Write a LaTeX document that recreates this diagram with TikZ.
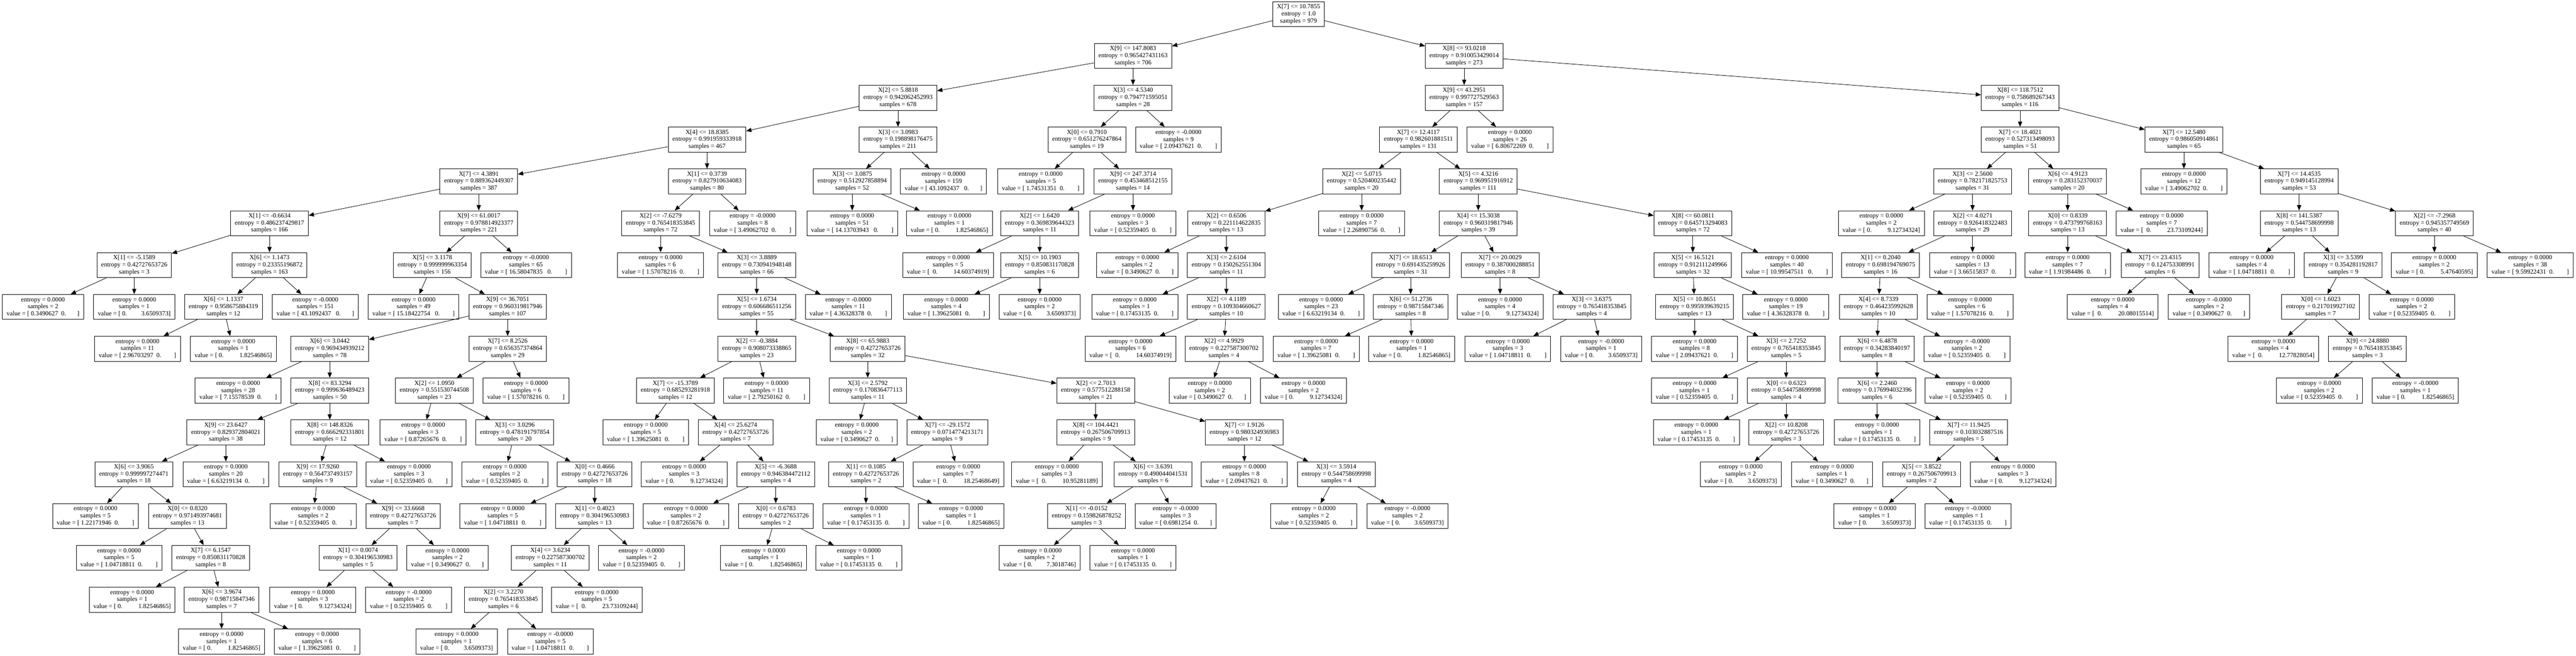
\documentclass[tikz,border=0pt]{standalone}
\usepackage{fontspec}
\setmainfont{Liberation Serif}
\usepackage{tikz}
\usetikzlibrary{arrows.meta}
\tikzstyle{split} = [rectangle, minimum height=1.42cm, inner xsep=0.24cm, text centered, align=center, draw=black, fill=white, line width=0.024cm, font=\fontsize{10.3pt}{11.4pt}\selectfont]
\tikzstyle{leafbox} = [split]
\tikzstyle{arrow} = [line width=0.024cm, ->, >={Triangle[length=0.3cm,width=0.24cm]}]
\begin{document}
\begin{tikzpicture}[node distance=2.374cm]
\useasboundingbox (0,0) rectangle (146.24,-37.22);
\node (dec0) [split] at (73.72,-0.80) {X[7] <= 10.7855\\entropy = 1.0\\samples = 979};
% level 1
\node (dec1) [split, below of=dec0, xshift=-9.40cm] {X[9] <= 147.8083\\entropy = 0.965427431163\\samples = 706};
\node (dec2) [split, below of=dec0, xshift=9.40cm] {X[8] <= 93.0218\\entropy = 0.910053429014\\samples = 273};
% level 2
\node (dec3) [split, below of=dec1, xshift=-13.34cm] {X[2] <= 5.8818\\entropy = 0.942062452993\\samples = 678};
\node (dec4) [split, below of=dec1] {X[3] <= 4.5340\\entropy = 0.794771595051\\samples = 28};
\node (dec5) [split, below of=dec2] {X[9] <= 43.2951\\entropy = 0.997727529563\\samples = 157};
\node (dec6) [split, below of=dec2, xshift=31.56cm] {X[8] <= 118.7512\\entropy = 0.758689267343\\samples = 116};
% level 3
\node (dec7) [split, below of=dec3, xshift=-10.84cm] {X[4] <= 18.8385\\entropy = 0.991959333918\\samples = 467};
\node (dec8) [split, below of=dec3] {X[3] <= 3.0983\\entropy = 0.198898176475\\samples = 211};
\node (dec9) [split, below of=dec4, xshift=-2.62cm] {X[0] <= 0.7910\\entropy = 0.651276247864\\samples = 19};
\node (leaf1) [leafbox, below of=dec4, xshift=2.58cm] {entropy = -0.0000\\samples = 9\\value = [~2.09437621~~0.~~~~~~~~]};
\node (dec10) [split, below of=dec5, xshift=-2.60cm] {X[7] <= 12.4117\\entropy = 0.982601881511\\samples = 131};
\node (leaf2) [leafbox, below of=dec5, xshift=2.60cm] {entropy = 0.0000\\samples = 26\\value = [~6.80672269~~0.~~~~~~~~]};
\node (dec11) [split, below of=dec6] {X[7] <= 18.4021\\entropy = 0.527313498093\\samples = 51};
\node (dec12) [split, below of=dec6, xshift=9.30cm] {X[7] <= 12.5480\\entropy = 0.986050914861\\samples = 65};
% level 4
\node (dec13) [split, below of=dec7, xshift=-12.96cm] {X[7] <= 4.3891\\entropy = 0.889362449307\\samples = 387};
\node (dec14) [split, below of=dec7] {X[1] <= 0.3739\\entropy = 0.827910634083\\samples = 80};
\node (dec15) [split, below of=dec8, xshift=-2.60cm] {X[3] <= 3.0875\\entropy = 0.512927858894\\samples = 52};
\node (leaf3) [leafbox, below of=dec8, xshift=2.58cm] {entropy = 0.0000\\samples = 159\\value = [~43.1092437~~~0.~~~~~~~]};
\node (leaf4) [leafbox, below of=dec9, xshift=-2.62cm] {entropy = 0.0000\\samples = 5\\value = [~1.74531351~~0.~~~~~~~~]};
\node (dec16) [split, below of=dec9, xshift=2.62cm] {X[9] <= 247.3714\\entropy = 0.453468512155\\samples = 14};
\node (dec17) [split, below of=dec10, xshift=-3.22cm] {X[2] <= 5.0715\\entropy = 0.520400235442\\samples = 20};
\node (dec18) [split, below of=dec10, xshift=3.40cm] {X[5] <= 4.3216\\entropy = 0.969951916912\\samples = 111};
\node (dec19) [split, below of=dec11, xshift=-2.70cm] {X[3] <= 2.5600\\entropy = 0.782171825753\\samples = 31};
\node (dec20) [split, below of=dec11, xshift=2.70cm] {X[6] <= 4.9123\\entropy = 0.283152370037\\samples = 20};
\node (leaf5) [leafbox, below of=dec12] {entropy = 0.0000\\samples = 12\\value = [~3.49062702~~0.~~~~~~~~]};
\node (dec21) [split, below of=dec12, xshift=6.54cm] {X[7] <= 14.4535\\entropy = 0.949145128994\\samples = 53};
% level 5
\node (dec22) [split, below of=dec13, xshift=-11.88cm] {X[1] <= -0.6634\\entropy = 0.486237429817\\samples = 166};
\node (dec23) [split, below of=dec13] {X[9] <= 61.0017\\entropy = 0.978814923377\\samples = 221};
\node (dec24) [split, below of=dec14, xshift=-2.64cm] {X[2] <= -7.6279\\entropy = 0.765418353845\\samples = 72};
\node (leaf6) [leafbox, below of=dec14, xshift=2.58cm] {entropy = -0.0000\\samples = 8\\value = [~3.49062702~~0.~~~~~~~~]};
\node (leaf7) [leafbox, below of=dec15] {entropy = 0.0000\\samples = 51\\value = [~14.13703943~~~0.~~~~~~~~]};
\node (leaf8) [leafbox, below of=dec15, xshift=5.52cm] {entropy = 0.0000\\samples = 1\\value = [~0.~~~~~~~~~~1.82546865]};
\node (dec25) [split, below of=dec16, xshift=-5.30cm] {X[2] <= 1.6420\\entropy = 0.369839644323\\samples = 11};
\node (leaf9) [leafbox, below of=dec16] {entropy = 0.0000\\samples = 3\\value = [~0.52359405~~0.~~~~~~~~]};
\node (dec26) [split, below of=dec17, xshift=-7.68cm] {X[2] <= 0.6506\\entropy = 0.221114622835\\samples = 13};
\node (leaf10) [leafbox, below of=dec17] {entropy = 0.0000\\samples = 7\\value = [~2.26890756~~0.~~~~~~~~]};
\node (dec27) [split, below of=dec18] {X[4] <= 15.3038\\entropy = 0.960319817946\\samples = 39};
\node (dec28) [split, below of=dec18, xshift=12.18cm] {X[8] <= 60.0811\\entropy = 0.645713294083\\samples = 72};
\node (leaf11) [leafbox, below of=dec19, xshift=-5.18cm] {entropy = 0.0000\\samples = 2\\value = [~0.~~~~~~~~~~9.12734324]};
\node (dec29) [split, below of=dec19] {X[2] <= 4.0271\\entropy = 0.926418322483\\samples = 29};
\node (dec30) [split, below of=dec20] {X[0] <= 0.8339\\entropy = 0.473799768163\\samples = 13};
\node (leaf12) [leafbox, below of=dec20, xshift=5.34cm] {entropy = 0.0000\\samples = 7\\value = [~~0.~~~~~~~~~~23.73109244]};
\node (dec31) [split, below of=dec21] {X[8] <= 141.5387\\entropy = 0.544758699998\\samples = 13};
\node (dec32) [split, below of=dec21, xshift=7.68cm] {X[2] <= -7.2968\\entropy = 0.945357749569\\samples = 40};
% level 6
\node (dec33) [split, below of=dec22, xshift=-7.68cm] {X[1] <= -5.1589\\entropy = 0.42727653726\\samples = 3};
\node (dec34) [split, below of=dec22] {X[6] <= 1.1473\\entropy = 0.23355196872\\samples = 163};
\node (dec35) [split, below of=dec23, xshift=-2.64cm] {X[5] <= 3.1178\\entropy = 0.999999963354\\samples = 156};
\node (leaf13) [leafbox, below of=dec23, xshift=2.68cm] {entropy = -0.0000\\samples = 65\\value = [~16.58047835~~~0.~~~~~~~~]};
\node (leaf14) [leafbox, below of=dec24] {entropy = 0.0000\\samples = 6\\value = [~1.57078216~~0.~~~~~~~~]};
\node (dec36) [split, below of=dec24, xshift=5.46cm] {X[3] <= 3.8889\\entropy = 0.730941948148\\samples = 66};
\node (leaf15) [leafbox, below of=dec25, xshift=-5.20cm] {entropy = 0.0000\\samples = 5\\value = [~~0.~~~~~~~~~~14.60374919]};
\node (dec37) [split, below of=dec25] {X[5] <= 10.1903\\entropy = 0.850831170828\\samples = 6};
\node (leaf16) [leafbox, below of=dec26, xshift=-5.06cm] {entropy = 0.0000\\samples = 2\\value = [~0.3490627~~0.~~~~~~~]};
\node (dec38) [split, below of=dec26] {X[3] <= 2.6104\\entropy = 0.150262551304\\samples = 11};
\node (dec39) [split, below of=dec27, xshift=-3.84cm] {X[7] <= 18.6513\\entropy = 0.691435259926\\samples = 31};
\node (dec40) [split, below of=dec27, xshift=1.24cm] {X[7] <= 20.0029\\entropy = 0.387000288851\\samples = 8};
\node (dec41) [split, below of=dec28] {X[5] <= 16.5121\\entropy = 0.912111249966\\samples = 32};
\node (leaf17) [leafbox, below of=dec28, xshift=5.34cm] {entropy = 0.0000\\samples = 40\\value = [~10.99547511~~~0.~~~~~~~~]};
\node (dec42) [split, below of=dec29, xshift=-5.22cm] {X[1] <= 0.2040\\entropy = 0.698194769075\\samples = 16};
\node (leaf18) [leafbox, below of=dec29] {entropy = 0.0000\\samples = 13\\value = [~3.66515837~~0.~~~~~~~~]};
\node (leaf19) [leafbox, below of=dec30] {entropy = 0.0000\\samples = 7\\value = [~1.91984486~~0.~~~~~~~~]};
\node (dec43) [split, below of=dec30, xshift=5.24cm] {X[7] <= 23.4315\\entropy = 0.124753308991\\samples = 6};
\node (leaf20) [leafbox, below of=dec31, xshift=-2.70cm] {entropy = 0.0000\\samples = 4\\value = [~1.04718811~~0.~~~~~~~~]};
\node (dec44) [split, below of=dec31, xshift=2.50cm] {X[3] <= 3.5399\\entropy = 0.354281192817\\samples = 9};
\node (leaf21) [leafbox, below of=dec32] {entropy = 0.0000\\samples = 2\\value = [~0.~~~~~~~~~~5.47640595]};
\node (leaf22) [leafbox, below of=dec32, xshift=5.44cm] {entropy = 0.0000\\samples = 38\\value = [~9.59922431~~0.~~~~~~~~]};
% level 7
\node (leaf23) [leafbox, below of=dec33, xshift=-5.18cm] {entropy = 0.0000\\samples = 2\\value = [~0.3490627~~0.~~~~~~~]};
\node (leaf24) [leafbox, below of=dec33] {entropy = 0.0000\\samples = 1\\value = [~0.~~~~~~~~~3.6509373]};
\node (dec45) [split, below of=dec34, xshift=-2.62cm] {X[6] <= 1.1337\\entropy = 0.958675884319\\samples = 12};
\node (leaf25) [leafbox, below of=dec34, xshift=2.60cm] {entropy = -0.0000\\samples = 151\\value = [~43.1092437~~~0.~~~~~~~]};
\node (leaf26) [leafbox, below of=dec35, xshift=-1.06cm] {entropy = 0.0000\\samples = 49\\value = [~15.18422754~~~0.~~~~~~~~]};
\node (dec46) [split, below of=dec35, xshift=4.28cm] {X[9] <= 36.7051\\entropy = 0.960319817946\\samples = 107};
\node (dec47) [split, below of=dec36] {X[5] <= 1.6734\\entropy = 0.606686511256\\samples = 55};
\node (leaf27) [leafbox, below of=dec36, xshift=5.20cm] {entropy = -0.0000\\samples = 11\\value = [~4.36328378~~0.~~~~~~~~]};
\node (leaf28) [leafbox, below of=dec37, xshift=-5.30cm] {entropy = 0.0000\\samples = 4\\value = [~1.39625081~~0.~~~~~~~~]};
\node (leaf29) [leafbox, below of=dec37] {entropy = 0.0000\\samples = 2\\value = [~0.~~~~~~~~~3.6509373]};
\node (leaf30) [leafbox, below of=dec38, xshift=-5.20cm] {entropy = 0.0000\\samples = 1\\value = [~0.17453135~~0.~~~~~~~~]};
\node (dec48) [split, below of=dec38] {X[2] <= 4.1189\\entropy = 0.109304660627\\samples = 10};
\node (leaf31) [leafbox, below of=dec39, xshift=-5.08cm] {entropy = 0.0000\\samples = 23\\value = [~6.63219134~~0.~~~~~~~~]};
\node (dec49) [split, below of=dec39] {X[6] <= 51.2736\\entropy = 0.98715847346\\samples = 8};
\node (leaf32) [leafbox, below of=dec40] {entropy = 0.0000\\samples = 4\\value = [~0.~~~~~~~~~~9.12734324]};
\node (dec50) [split, below of=dec40, xshift=5.20cm] {X[3] <= 3.6375\\entropy = 0.765418353845\\samples = 4};
\node (dec51) [split, below of=dec41, xshift=0.10cm] {X[5] <= 10.8651\\entropy = 0.995939639215\\samples = 13};
\node (leaf33) [leafbox, below of=dec41, xshift=5.28cm] {entropy = 0.0000\\samples = 19\\value = [~4.36328378~~0.~~~~~~~~]};
\node (dec52) [split, below of=dec42, xshift=-0.12cm] {X[4] <= 8.7339\\entropy = 0.464235992628\\samples = 10};
\node (leaf34) [leafbox, below of=dec42, xshift=5.08cm] {entropy = 0.0000\\samples = 6\\value = [~1.57078216~~0.~~~~~~~~]};
\node (leaf35) [leafbox, below of=dec43, xshift=-2.68cm] {entropy = 0.0000\\samples = 4\\value = [~~0.~~~~~~~~~~20.08015514]};
\node (leaf36) [leafbox, below of=dec43, xshift=2.78cm] {entropy = -0.0000\\samples = 2\\value = [~0.3490627~~0.~~~~~~~]};
\node (dec53) [split, below of=dec44, xshift=-1.28cm] {X[0] <= 1.6023\\entropy = 0.217019927102\\samples = 7};
\node (leaf37) [leafbox, below of=dec44, xshift=3.90cm] {entropy = 0.0000\\samples = 2\\value = [~0.52359405~~0.~~~~~~~~]};
% level 8
\node (leaf38) [leafbox, below of=dec45, xshift=-4.88cm] {entropy = 0.0000\\samples = 11\\value = [~2.96703297~~0.~~~~~~~~]};
\node (leaf39) [leafbox, below of=dec45, xshift=0.56cm] {entropy = 0.0000\\samples = 1\\value = [~0.~~~~~~~~~~1.82546865]};
\node (dec54) [split, below of=dec46, xshift=-10.10cm] {X[6] <= 3.0442\\entropy = 0.969434939212\\samples = 78};
\node (dec55) [split, below of=dec46] {X[7] <= 8.2526\\entropy = 0.656357374864\\samples = 29};
\node (dec56) [split, below of=dec47] {X[2] <= -0.3884\\entropy = 0.908073338865\\samples = 23};
\node (dec57) [split, below of=dec47, xshift=6.30cm] {X[8] <= 65.9883\\entropy = 0.42727653726\\samples = 32};
\node (leaf40) [leafbox, below of=dec48, xshift=-5.44cm] {entropy = 0.0000\\samples = 6\\value = [~~0.~~~~~~~~~~14.60374919]};
\node (dec58) [split, below of=dec48, xshift=-0.14cm] {X[2] <= 4.9929\\entropy = 0.227587300702\\samples = 4};
\node (leaf41) [leafbox, below of=dec49, xshift=-5.36cm] {entropy = 0.0000\\samples = 7\\value = [~1.39625081~~0.~~~~~~~~]};
\node (leaf42) [leafbox, below of=dec49, xshift=0.06cm] {entropy = 0.0000\\samples = 1\\value = [~0.~~~~~~~~~~1.82546865]};
\node (leaf43) [leafbox, below of=dec50, xshift=-4.76cm] {entropy = 0.0000\\samples = 3\\value = [~1.04718811~~0.~~~~~~~~]};
\node (leaf44) [leafbox, below of=dec50, xshift=0.54cm] {entropy = -0.0000\\samples = 1\\value = [~0.~~~~~~~~~3.6509373]};
\node (leaf45) [leafbox, below of=dec51] {entropy = 0.0000\\samples = 8\\value = [~2.09437621~~0.~~~~~~~~]};
\node (dec59) [split, below of=dec51, xshift=5.20cm] {X[3] <= 2.7252\\entropy = 0.765418353845\\samples = 5};
\node (dec60) [split, below of=dec52, xshift=-0.08cm] {X[6] <= 6.4878\\entropy = 0.34283840197\\samples = 8};
\node (leaf46) [leafbox, below of=dec52, xshift=5.02cm] {entropy = -0.0000\\samples = 2\\value = [~0.52359405~~0.~~~~~~~~]};
\node (leaf47) [leafbox, below of=dec53, xshift=-2.68cm] {entropy = 0.0000\\samples = 4\\value = [~~0.~~~~~~~~~~12.77828054]};
\node (dec61) [split, below of=dec53, xshift=2.66cm] {X[9] <= 24.8880\\entropy = 0.765418353845\\samples = 3};
% level 9
\node (leaf48) [leafbox, below of=dec54, xshift=-5.20cm] {entropy = 0.0000\\samples = 28\\value = [~7.15578539~~0.~~~~~~~~]};
\node (dec62) [split, below of=dec54] {X[8] <= 83.3294\\entropy = 0.999636489423\\samples = 50};
\node (dec63) [split, below of=dec55, xshift=-4.16cm] {X[2] <= 1.0950\\entropy = 0.551530744508\\samples = 23};
\node (leaf49) [leafbox, below of=dec55, xshift=1.04cm] {entropy = 0.0000\\samples = 6\\value = [~1.57078216~~0.~~~~~~~~]};
\node (dec64) [split, below of=dec56, xshift=-4.62cm] {X[7] <= -15.3789\\entropy = 0.685293281918\\samples = 12};
\node (leaf50) [leafbox, below of=dec56, xshift=0.56cm] {entropy = 0.0000\\samples = 11\\value = [~2.79250162~~0.~~~~~~~~]};
\node (dec65) [split, below of=dec57] {X[3] <= 2.5792\\entropy = 0.170836477113\\samples = 11};
\node (dec66) [split, below of=dec57, xshift=12.94cm] {X[2] <= 2.7013\\entropy = 0.577512288158\\samples = 21};
\node (leaf51) [leafbox, below of=dec58, xshift=-0.80cm] {entropy = 0.0000\\samples = 2\\value = [~0.3490627~~0.~~~~~~~]};
\node (leaf52) [leafbox, below of=dec58, xshift=4.52cm] {entropy = 0.0000\\samples = 2\\value = [~0.~~~~~~~~~~9.12734324]};
\node (leaf53) [leafbox, below of=dec59, xshift=-5.20cm] {entropy = 0.0000\\samples = 1\\value = [~0.52359405~~0.~~~~~~~~]};
\node (dec67) [split, below of=dec59] {X[0] <= 0.6323\\entropy = 0.544758699998\\samples = 4};
\node (dec68) [split, below of=dec60] {X[6] <= 2.2460\\entropy = 0.176994032396\\samples = 6};
\node (leaf54) [leafbox, below of=dec60, xshift=5.16cm] {entropy = 0.0000\\samples = 2\\value = [~0.52359405~~0.~~~~~~~~]};
\node (leaf55) [leafbox, below of=dec61, xshift=-2.74cm] {entropy = 0.0000\\samples = 2\\value = [~0.52359405~~0.~~~~~~~~]};
\node (leaf56) [leafbox, below of=dec61, xshift=2.72cm] {entropy = -0.0000\\samples = 1\\value = [~0.~~~~~~~~~~1.82546865]};
% level 10
\node (dec69) [split, below of=dec62, xshift=-5.90cm] {X[9] <= 23.6427\\entropy = 0.829372804021\\samples = 38};
\node (dec70) [split, below of=dec62] {X[8] <= 148.8326\\entropy = 0.666292331801\\samples = 12};
\node (leaf57) [leafbox, below of=dec63, xshift=-0.64cm] {entropy = 0.0000\\samples = 3\\value = [~0.87265676~~0.~~~~~~~~]};
\node (dec71) [split, below of=dec63, xshift=4.56cm] {X[3] <= 3.0296\\entropy = 0.478191797854\\samples = 20};
\node (leaf58) [leafbox, below of=dec64, xshift=-1.68cm] {entropy = 0.0000\\samples = 5\\value = [~1.39625081~~0.~~~~~~~~]};
\node (dec72) [split, below of=dec64, xshift=3.42cm] {X[4] <= 25.6274\\entropy = 0.42727653726\\samples = 7};
\node (leaf59) [leafbox, below of=dec65, xshift=-0.62cm] {entropy = 0.0000\\samples = 2\\value = [~0.3490627~~0.~~~~~~~]};
\node (dec73) [split, below of=dec65, xshift=4.52cm] {X[7] <= -29.1572\\entropy = 0.0714774213171\\samples = 9};
\node (dec74) [split, below of=dec66] {X[8] <= 104.4421\\entropy = 0.267506709913\\samples = 9};
\node (dec75) [split, below of=dec66, xshift=8.44cm] {X[7] <= 1.9126\\entropy = 0.980324936983\\samples = 12};
\node (leaf60) [leafbox, below of=dec67, xshift=-5.10cm] {entropy = 0.0000\\samples = 1\\value = [~0.17453135~~0.~~~~~~~~]};
\node (dec76) [split, below of=dec67] {X[2] <= 10.8208\\entropy = 0.42727653726\\samples = 3};
\node (leaf61) [leafbox, below of=dec68] {entropy = 0.0000\\samples = 1\\value = [~0.17453135~~0.~~~~~~~~]};
\node (dec77) [split, below of=dec68, xshift=5.20cm] {X[7] <= 11.9425\\entropy = 0.103032887516\\samples = 5};
% level 11
\node (dec78) [split, below of=dec69, xshift=-5.22cm] {X[6] <= 3.9065\\entropy = 0.999997274471\\samples = 18};
\node (leaf62) [leafbox, below of=dec69] {entropy = 0.0000\\samples = 20\\value = [~6.63219134~~0.~~~~~~~~]};
\node (dec79) [split, below of=dec70, xshift=-0.68cm] {X[9] <= 17.9260\\entropy = 0.564737493157\\samples = 9};
\node (leaf63) [leafbox, below of=dec70, xshift=4.50cm] {entropy = 0.0000\\samples = 3\\value = [~0.52359405~~0.~~~~~~~~]};
\node (leaf64) [leafbox, below of=dec71, xshift=-0.56cm] {entropy = 0.0000\\samples = 2\\value = [~0.52359405~~0.~~~~~~~~]};
\node (dec80) [split, below of=dec71, xshift=4.54cm] {X[0] <= 0.4666\\entropy = 0.42727653726\\samples = 18};
\node (leaf65) [leafbox, below of=dec72, xshift=-2.92cm] {entropy = 0.0000\\samples = 3\\value = [~0.~~~~~~~~~~9.12734324]};
\node (dec81) [split, below of=dec72, xshift=2.28cm] {X[5] <= -6.3688\\entropy = 0.946384472112\\samples = 4};
\node (dec82) [split, below of=dec73, xshift=-4.62cm] {X[1] <= 0.1085\\entropy = 0.42727653726\\samples = 2};
\node (leaf66) [leafbox, below of=dec73, xshift=0.62cm] {entropy = 0.0000\\samples = 7\\value = [~~0.~~~~~~~~~~18.25468649]};
\node (leaf67) [leafbox, below of=dec74, xshift=-2.20cm] {entropy = 0.0000\\samples = 3\\value = [~~0.~~~~~~~~~~10.95281189]};
\node (dec83) [split, below of=dec74, xshift=3.26cm] {X[6] <= 3.6391\\entropy = 0.490044041531\\samples = 6};
\node (leaf68) [leafbox, below of=dec75] {entropy = 0.0000\\samples = 8\\value = [~2.09437621~~0.~~~~~~~~]};
\node (dec84) [split, below of=dec75, xshift=5.22cm] {X[3] <= 3.5914\\entropy = 0.544758699998\\samples = 4};
\node (leaf69) [leafbox, below of=dec76, xshift=-2.58cm] {entropy = 0.0000\\samples = 2\\value = [~0.~~~~~~~~~3.6509373]};
\node (leaf70) [leafbox, below of=dec76, xshift=2.60cm] {entropy = 0.0000\\samples = 1\\value = [~0.3490627~~0.~~~~~~~]};
\node (dec85) [split, below of=dec77, xshift=-2.68cm] {X[5] <= 3.8522\\entropy = 0.267506709913\\samples = 2};
\node (leaf71) [leafbox, below of=dec77, xshift=2.52cm] {entropy = 0.0000\\samples = 3\\value = [~0.~~~~~~~~~~9.12734324]};
% level 12
\node (leaf72) [leafbox, below of=dec78, xshift=-2.18cm] {entropy = 0.0000\\samples = 5\\value = [~1.22171946~~0.~~~~~~~~]};
\node (dec86) [split, below of=dec78, xshift=3.04cm] {X[0] <= 0.8320\\entropy = 0.971493974681\\samples = 13};
\node (leaf73) [leafbox, below of=dec79, xshift=-0.26cm] {entropy = 0.0000\\samples = 2\\value = [~0.52359405~~0.~~~~~~~~]};
\node (dec87) [split, below of=dec79, xshift=4.84cm] {X[9] <= 33.6668\\entropy = 0.42727653726\\samples = 7};
\node (leaf74) [leafbox, below of=dec80, xshift=-5.22cm] {entropy = 0.0000\\samples = 5\\value = [~1.04718811~~0.~~~~~~~~]};
\node (dec88) [split, below of=dec80] {X[1] <= 0.4023\\entropy = 0.304196530983\\samples = 13};
\node (leaf75) [leafbox, below of=dec81, xshift=-5.10cm] {entropy = 0.0000\\samples = 2\\value = [~0.87265676~~0.~~~~~~~~]};
\node (dec89) [split, below of=dec81] {X[0] <= 0.6783\\entropy = 0.42727653726\\samples = 2};
\node (leaf76) [leafbox, below of=dec82] {entropy = 0.0000\\samples = 1\\value = [~0.17453135~~0.~~~~~~~~]};
\node (leaf77) [leafbox, below of=dec82, xshift=5.40cm] {entropy = 0.0000\\samples = 1\\value = [~0.~~~~~~~~~~1.82546865]};
\node (dec90) [split, below of=dec83, xshift=-3.78cm] {X[1] <= -0.0152\\entropy = 0.159826878252\\samples = 3};
\node (leaf78) [leafbox, below of=dec83, xshift=1.28cm] {entropy = -0.0000\\samples = 3\\value = [~0.6981254~~0.~~~~~~~]};
\node (leaf79) [leafbox, below of=dec84, xshift=-1.28cm] {entropy = 0.0000\\samples = 2\\value = [~0.52359405~~0.~~~~~~~~]};
\node (leaf80) [leafbox, below of=dec84, xshift=4.04cm] {entropy = -0.0000\\samples = 2\\value = [~0.~~~~~~~~~3.6509373]};
\node (leaf81) [leafbox, below of=dec85, xshift=-2.66cm] {entropy = 0.0000\\samples = 1\\value = [~0.~~~~~~~~~3.6509373]};
\node (leaf82) [leafbox, below of=dec85, xshift=2.64cm] {entropy = -0.0000\\samples = 1\\value = [~0.17453135~~0.~~~~~~~~]};
% level 13
\node (leaf83) [leafbox, below of=dec86, xshift=-3.88cm] {entropy = 0.0000\\samples = 5\\value = [~1.04718811~~0.~~~~~~~~]};
\node (dec91) [split, below of=dec86, xshift=1.32cm] {X[7] <= 6.1547\\entropy = 0.850831170828\\samples = 8};
\node (dec92) [split, below of=dec87, xshift=-2.56cm] {X[1] <= 0.0074\\entropy = 0.304196530983\\samples = 5};
\node (leaf84) [leafbox, below of=dec87, xshift=2.52cm] {entropy = 0.0000\\samples = 2\\value = [~0.3490627~~0.~~~~~~~]};
\node (dec93) [split, below of=dec88, xshift=-2.52cm] {X[4] <= 3.6234\\entropy = 0.227587300702\\samples = 11};
\node (leaf85) [leafbox, below of=dec88, xshift=2.66cm] {entropy = -0.0000\\samples = 2\\value = [~0.52359405~~0.~~~~~~~~]};
\node (leaf86) [leafbox, below of=dec89, xshift=-0.70cm] {entropy = 0.0000\\samples = 1\\value = [~0.~~~~~~~~~~1.82546865]};
\node (leaf87) [leafbox, below of=dec89, xshift=4.72cm] {entropy = 0.0000\\samples = 1\\value = [~0.17453135~~0.~~~~~~~~]};
\node (leaf88) [leafbox, below of=dec90, xshift=-2.66cm] {entropy = 0.0000\\samples = 2\\value = [~0.~~~~~~~~~7.3018746]};
\node (leaf89) [leafbox, below of=dec90, xshift=2.64cm] {entropy = 0.0000\\samples = 1\\value = [~0.17453135~~0.~~~~~~~~]};
% level 14
\node (leaf90) [leafbox, below of=dec91, xshift=-4.46cm] {entropy = 0.0000\\samples = 1\\value = [~0.~~~~~~~~~~1.82546865]};
\node (dec94) [split, below of=dec91, xshift=0.62cm] {X[6] <= 3.9674\\entropy = 0.98715847346\\samples = 7};
\node (leaf91) [leafbox, below of=dec92, xshift=-2.56cm] {entropy = 0.0000\\samples = 3\\value = [~0.~~~~~~~~~~9.12734324]};
\node (leaf92) [leafbox, below of=dec92, xshift=2.88cm] {entropy = -0.0000\\samples = 2\\value = [~0.52359405~~0.~~~~~~~~]};
\node (dec95) [split, below of=dec93, xshift=-2.66cm] {X[2] <= 3.2270\\entropy = 0.765418353845\\samples = 6};
\node (leaf93) [leafbox, below of=dec93, xshift=2.64cm] {entropy = 0.0000\\samples = 5\\value = [~~0.~~~~~~~~~~23.73109244]};
% level 15
\node (leaf94) [leafbox, below of=dec94] {entropy = 0.0000\\samples = 1\\value = [~0.~~~~~~~~~~1.82546865]};
\node (leaf95) [leafbox, below of=dec94, xshift=5.42cm] {entropy = 0.0000\\samples = 6\\value = [~1.39625081~~0.~~~~~~~~]};
\node (leaf96) [leafbox, below of=dec95, xshift=-2.66cm] {entropy = 0.0000\\samples = 1\\value = [~0.~~~~~~~~~3.6509373]};
\node (leaf97) [leafbox, below of=dec95, xshift=2.66cm] {entropy = -0.0000\\samples = 5\\value = [~1.04718811~~0.~~~~~~~~]};
% edges
\draw [arrow] (dec0) -- (dec1);
\draw [arrow] (dec0) -- (dec2);
\draw [arrow] (dec1) -- (dec3);
\draw [arrow] (dec1) -- (dec4);
\draw [arrow] (dec2) -- (dec5);
\draw [arrow] (dec2) -- (dec6);
\draw [arrow] (dec3) -- (dec7);
\draw [arrow] (dec3) -- (dec8);
\draw [arrow] (dec4) -- (dec9);
\draw [arrow] (dec4) -- (leaf1);
\draw [arrow] (dec5) -- (dec10);
\draw [arrow] (dec5) -- (leaf2);
\draw [arrow] (dec6) -- (dec11);
\draw [arrow] (dec6) -- (dec12);
\draw [arrow] (dec7) -- (dec13);
\draw [arrow] (dec7) -- (dec14);
\draw [arrow] (dec8) -- (dec15);
\draw [arrow] (dec8) -- (leaf3);
\draw [arrow] (dec9) -- (leaf4);
\draw [arrow] (dec9) -- (dec16);
\draw [arrow] (dec10) -- (dec17);
\draw [arrow] (dec10) -- (dec18);
\draw [arrow] (dec11) -- (dec19);
\draw [arrow] (dec11) -- (dec20);
\draw [arrow] (dec12) -- (leaf5);
\draw [arrow] (dec12) -- (dec21);
\draw [arrow] (dec13) -- (dec22);
\draw [arrow] (dec13) -- (dec23);
\draw [arrow] (dec14) -- (dec24);
\draw [arrow] (dec14) -- (leaf6);
\draw [arrow] (dec15) -- (leaf7);
\draw [arrow] (dec15) -- (leaf8);
\draw [arrow] (dec16) -- (dec25);
\draw [arrow] (dec16) -- (leaf9);
\draw [arrow] (dec17) -- (dec26);
\draw [arrow] (dec17) -- (leaf10);
\draw [arrow] (dec18) -- (dec27);
\draw [arrow] (dec18) -- (dec28);
\draw [arrow] (dec19) -- (leaf11);
\draw [arrow] (dec19) -- (dec29);
\draw [arrow] (dec20) -- (dec30);
\draw [arrow] (dec20) -- (leaf12);
\draw [arrow] (dec21) -- (dec31);
\draw [arrow] (dec21) -- (dec32);
\draw [arrow] (dec22) -- (dec33);
\draw [arrow] (dec22) -- (dec34);
\draw [arrow] (dec23) -- (dec35);
\draw [arrow] (dec23) -- (leaf13);
\draw [arrow] (dec24) -- (leaf14);
\draw [arrow] (dec24) -- (dec36);
\draw [arrow] (dec25) -- (leaf15);
\draw [arrow] (dec25) -- (dec37);
\draw [arrow] (dec26) -- (leaf16);
\draw [arrow] (dec26) -- (dec38);
\draw [arrow] (dec27) -- (dec39);
\draw [arrow] (dec27) -- (dec40);
\draw [arrow] (dec28) -- (dec41);
\draw [arrow] (dec28) -- (leaf17);
\draw [arrow] (dec29) -- (dec42);
\draw [arrow] (dec29) -- (leaf18);
\draw [arrow] (dec30) -- (leaf19);
\draw [arrow] (dec30) -- (dec43);
\draw [arrow] (dec31) -- (leaf20);
\draw [arrow] (dec31) -- (dec44);
\draw [arrow] (dec32) -- (leaf21);
\draw [arrow] (dec32) -- (leaf22);
\draw [arrow] (dec33) -- (leaf23);
\draw [arrow] (dec33) -- (leaf24);
\draw [arrow] (dec34) -- (dec45);
\draw [arrow] (dec34) -- (leaf25);
\draw [arrow] (dec35) -- (leaf26);
\draw [arrow] (dec35) -- (dec46);
\draw [arrow] (dec36) -- (dec47);
\draw [arrow] (dec36) -- (leaf27);
\draw [arrow] (dec37) -- (leaf28);
\draw [arrow] (dec37) -- (leaf29);
\draw [arrow] (dec38) -- (leaf30);
\draw [arrow] (dec38) -- (dec48);
\draw [arrow] (dec39) -- (leaf31);
\draw [arrow] (dec39) -- (dec49);
\draw [arrow] (dec40) -- (leaf32);
\draw [arrow] (dec40) -- (dec50);
\draw [arrow] (dec41) -- (dec51);
\draw [arrow] (dec41) -- (leaf33);
\draw [arrow] (dec42) -- (dec52);
\draw [arrow] (dec42) -- (leaf34);
\draw [arrow] (dec43) -- (leaf35);
\draw [arrow] (dec43) -- (leaf36);
\draw [arrow] (dec44) -- (dec53);
\draw [arrow] (dec44) -- (leaf37);
\draw [arrow] (dec45) -- (leaf38);
\draw [arrow] (dec45) -- (leaf39);
\draw [arrow] (dec46) -- (dec54);
\draw [arrow] (dec46) -- (dec55);
\draw [arrow] (dec47) -- (dec56);
\draw [arrow] (dec47) -- (dec57);
\draw [arrow] (dec48) -- (leaf40);
\draw [arrow] (dec48) -- (dec58);
\draw [arrow] (dec49) -- (leaf41);
\draw [arrow] (dec49) -- (leaf42);
\draw [arrow] (dec50) -- (leaf43);
\draw [arrow] (dec50) -- (leaf44);
\draw [arrow] (dec51) -- (leaf45);
\draw [arrow] (dec51) -- (dec59);
\draw [arrow] (dec52) -- (dec60);
\draw [arrow] (dec52) -- (leaf46);
\draw [arrow] (dec53) -- (leaf47);
\draw [arrow] (dec53) -- (dec61);
\draw [arrow] (dec54) -- (leaf48);
\draw [arrow] (dec54) -- (dec62);
\draw [arrow] (dec55) -- (dec63);
\draw [arrow] (dec55) -- (leaf49);
\draw [arrow] (dec56) -- (dec64);
\draw [arrow] (dec56) -- (leaf50);
\draw [arrow] (dec57) -- (dec65);
\draw [arrow] (dec57) -- (dec66);
\draw [arrow] (dec58) -- (leaf51);
\draw [arrow] (dec58) -- (leaf52);
\draw [arrow] (dec59) -- (leaf53);
\draw [arrow] (dec59) -- (dec67);
\draw [arrow] (dec60) -- (dec68);
\draw [arrow] (dec60) -- (leaf54);
\draw [arrow] (dec61) -- (leaf55);
\draw [arrow] (dec61) -- (leaf56);
\draw [arrow] (dec62) -- (dec69);
\draw [arrow] (dec62) -- (dec70);
\draw [arrow] (dec63) -- (leaf57);
\draw [arrow] (dec63) -- (dec71);
\draw [arrow] (dec64) -- (leaf58);
\draw [arrow] (dec64) -- (dec72);
\draw [arrow] (dec65) -- (leaf59);
\draw [arrow] (dec65) -- (dec73);
\draw [arrow] (dec66) -- (dec74);
\draw [arrow] (dec66) -- (dec75);
\draw [arrow] (dec67) -- (leaf60);
\draw [arrow] (dec67) -- (dec76);
\draw [arrow] (dec68) -- (leaf61);
\draw [arrow] (dec68) -- (dec77);
\draw [arrow] (dec69) -- (dec78);
\draw [arrow] (dec69) -- (leaf62);
\draw [arrow] (dec70) -- (dec79);
\draw [arrow] (dec70) -- (leaf63);
\draw [arrow] (dec71) -- (leaf64);
\draw [arrow] (dec71) -- (dec80);
\draw [arrow] (dec72) -- (leaf65);
\draw [arrow] (dec72) -- (dec81);
\draw [arrow] (dec73) -- (dec82);
\draw [arrow] (dec73) -- (leaf66);
\draw [arrow] (dec74) -- (leaf67);
\draw [arrow] (dec74) -- (dec83);
\draw [arrow] (dec75) -- (leaf68);
\draw [arrow] (dec75) -- (dec84);
\draw [arrow] (dec76) -- (leaf69);
\draw [arrow] (dec76) -- (leaf70);
\draw [arrow] (dec77) -- (dec85);
\draw [arrow] (dec77) -- (leaf71);
\draw [arrow] (dec78) -- (leaf72);
\draw [arrow] (dec78) -- (dec86);
\draw [arrow] (dec79) -- (leaf73);
\draw [arrow] (dec79) -- (dec87);
\draw [arrow] (dec80) -- (leaf74);
\draw [arrow] (dec80) -- (dec88);
\draw [arrow] (dec81) -- (leaf75);
\draw [arrow] (dec81) -- (dec89);
\draw [arrow] (dec82) -- (leaf76);
\draw [arrow] (dec82) -- (leaf77);
\draw [arrow] (dec83) -- (dec90);
\draw [arrow] (dec83) -- (leaf78);
\draw [arrow] (dec84) -- (leaf79);
\draw [arrow] (dec84) -- (leaf80);
\draw [arrow] (dec85) -- (leaf81);
\draw [arrow] (dec85) -- (leaf82);
\draw [arrow] (dec86) -- (leaf83);
\draw [arrow] (dec86) -- (dec91);
\draw [arrow] (dec87) -- (dec92);
\draw [arrow] (dec87) -- (leaf84);
\draw [arrow] (dec88) -- (dec93);
\draw [arrow] (dec88) -- (leaf85);
\draw [arrow] (dec89) -- (leaf86);
\draw [arrow] (dec89) -- (leaf87);
\draw [arrow] (dec90) -- (leaf88);
\draw [arrow] (dec90) -- (leaf89);
\draw [arrow] (dec91) -- (leaf90);
\draw [arrow] (dec91) -- (dec94);
\draw [arrow] (dec92) -- (leaf91);
\draw [arrow] (dec92) -- (leaf92);
\draw [arrow] (dec93) -- (dec95);
\draw [arrow] (dec93) -- (leaf93);
\draw [arrow] (dec94) -- (leaf94);
\draw [arrow] (dec94) -- (leaf95);
\draw [arrow] (dec95) -- (leaf96);
\draw [arrow] (dec95) -- (leaf97);
\end{tikzpicture}
\end{document}
